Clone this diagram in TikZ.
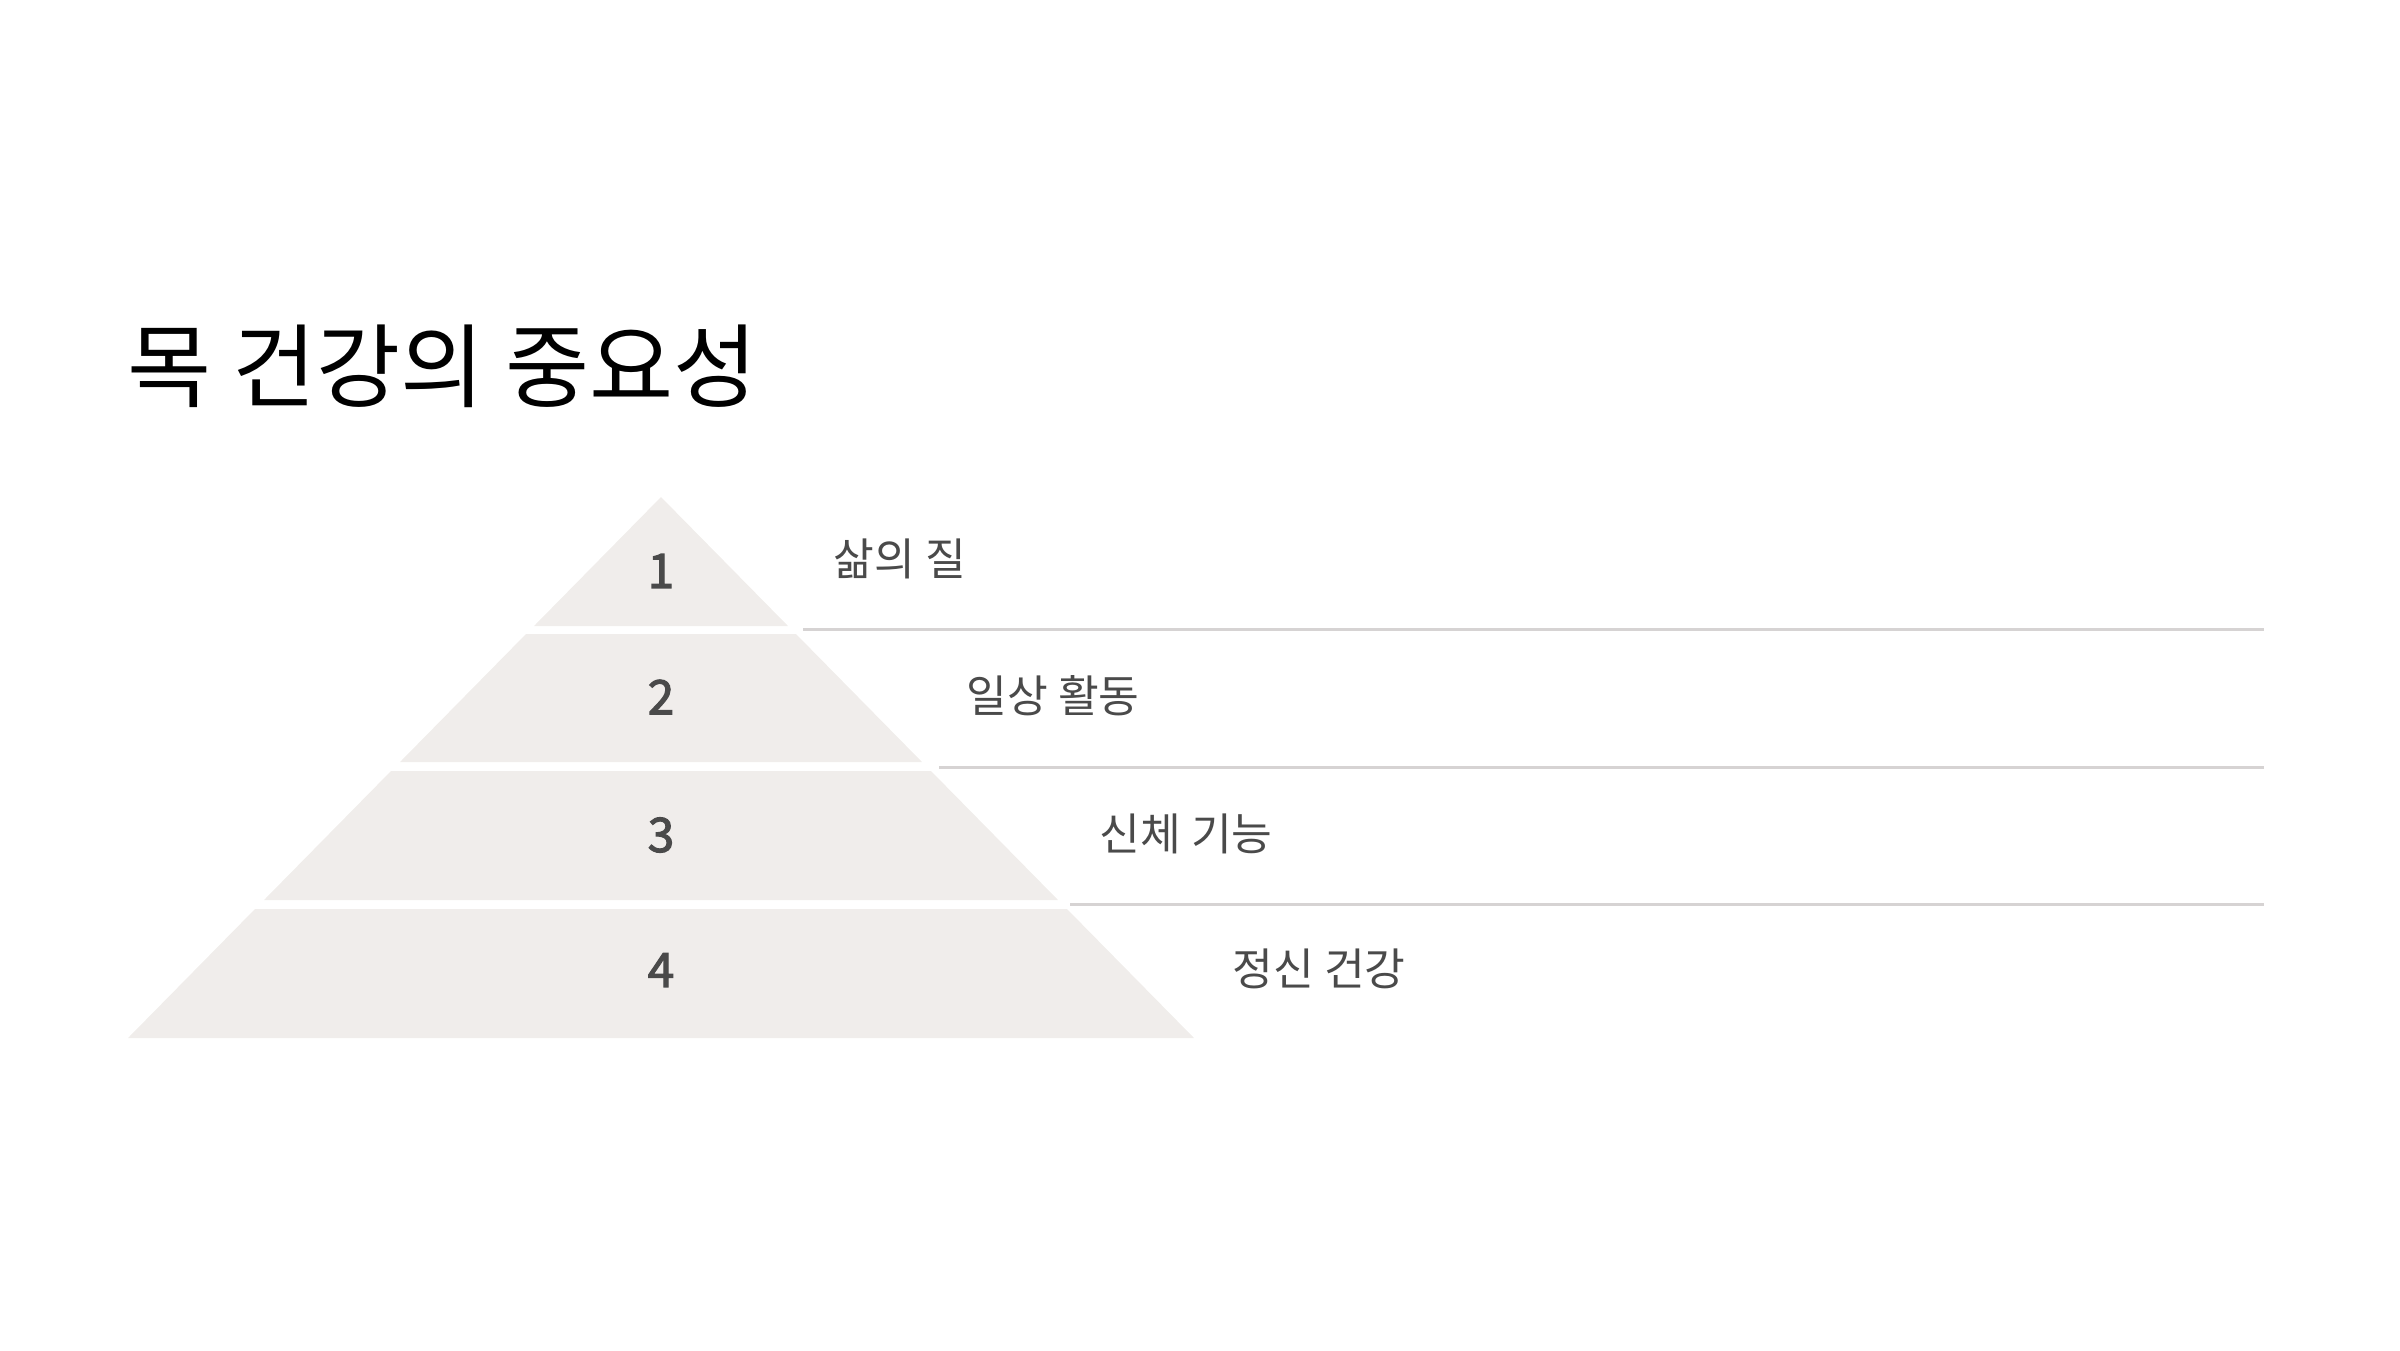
\documentclass[tikz,border=0pt]{standalone}
\usepackage{fontspec}
\setmainfont{Noto Sans CJK KR}
\newfontfamily\numfont[FakeBold=2.5]{Noto Sans CJK KR}
\usetikzlibrary{positioning}
\definecolor{tierfill}{HTML}{F0EDEB}
\definecolor{rulegray}{HTML}{D6D3D3}
\definecolor{labelgray}{HTML}{4A4A4A}
\tikzset{
      tier/.style={fill=tierfill, draw=none},
      sepline/.style={draw=rulegray, line width=0.85pt},
      tiernum/.style={text=labelgray, font=\numfont\fontsize{13.5}{16}\selectfont, inner sep=0pt},
      tierlabel/.style={text=labelgray, font=\fontsize{12.6}{15}\selectfont, anchor=west, inner sep=0pt},
      heading/.style={text=black, font=\fontsize{26}{31}\selectfont, anchor=west, inner sep=0pt},
}

\begin{document}
\begin{tikzpicture}[x=0.01cm, y=-0.01cm]
        \useasboundingbox (0,0) rectangle (2400,1350);

        % Title
        \node[heading] (title) at (127,366) {목 건강의 중요성};

        % Draw the tiers
        \fill[tier] (661,497) -- (788,626) -- (534,626) -- cycle;
        \fill[tier] (526,634) -- (796,634) -- (922,762) -- (400,762) -- cycle;
        \fill[tier] (391,771) -- (931,771) -- (1058,900) -- (264,900) -- cycle;
        \fill[tier] (255,909) -- (1067,909) -- (1194,1038) -- (128,1038) -- cycle;

        % Numbers
        \node[tiernum] (n1) at (661,571) {1};
        \node[tiernum] (n2) at (661,697) {2};
        \node[tiernum] (n3) at (661,835) {3};
        \node[tiernum] (n4) at (661,970) {4};

        % Labels
        \node[tierlabel] (l1) at (833,559) {삶의 질};
        \node[tierlabel] (l2) at (966,696) {일상 활동};
        \node[tierlabel] (l3) at (1099,834) {신체 기능};
        \node[tierlabel] (l4) at (1232,969) {정신 건강};

        % Separator lines
        \coordinate (s1a) at (803,629);  \coordinate (s1b) at (2264,629);
        \coordinate (s2a) at (939,767);  \coordinate (s2b) at (2264,767);
        \coordinate (s3a) at (1070,904); \coordinate (s3b) at (2264,904);
        \draw[sepline] (s1a) -- (s1b);
        \draw[sepline] (s2a) -- (s2b);
        \draw[sepline] (s3a) -- (s3b);

\end{tikzpicture}
\end{document}
